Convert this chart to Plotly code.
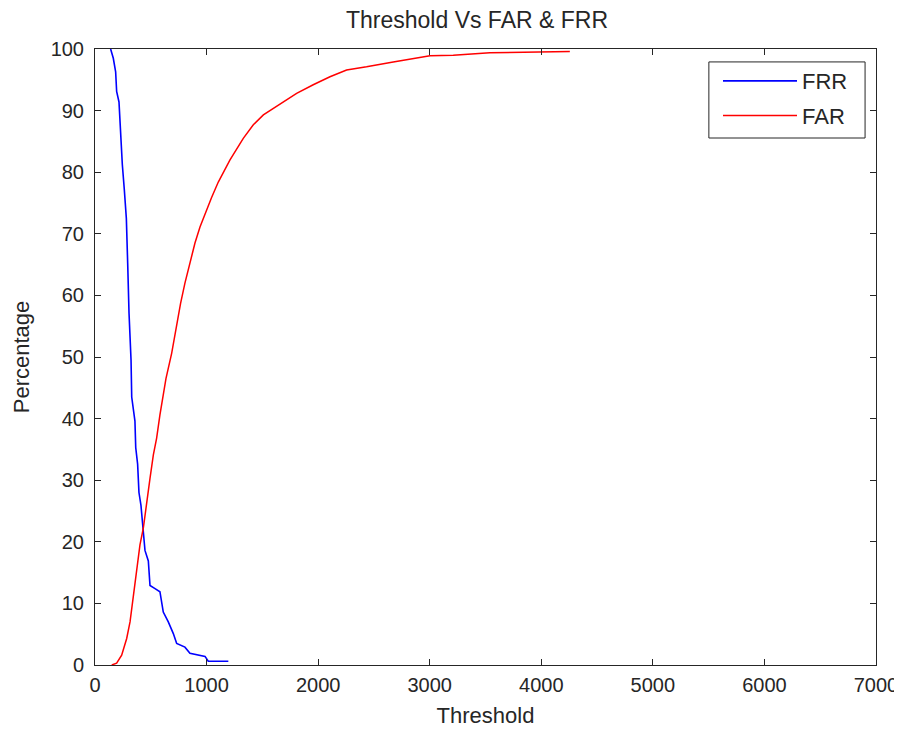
import plotly.graph_objects as go

frr_threshold = [140, 164, 185, 194, 215, 227, 245, 263, 281, 293, 305, 323, 329, 358, 365,
                 382, 394, 412, 433, 448, 478, 493, 538, 582, 612, 657, 702, 732, 806, 851,
                 986, 1015, 1195]
frr_values = [100, 98.5, 96.3, 93.1, 91.4, 86.6, 81.2, 77.1, 72.5, 65.2, 57.1, 49.5, 43.5, 39.6, 35.3,
              32.6, 28.0, 25.9, 21.1, 18.6, 16.9, 12.9, 12.4, 11.9, 8.6, 7.0, 5.1, 3.5, 2.9, 1.9,
              1.4, 0.6, 0.6]

far_threshold = [150, 194, 239, 284, 314, 343, 373, 403, 433, 463, 493, 523, 552, 582, 612,
                 636, 687, 726, 767, 806, 851, 896, 941, 986, 1045, 1105, 1165, 1210, 1329,
                 1419, 1509, 1628, 1807, 1956, 2106, 2255, 2434, 2673, 2852, 3002, 3211, 3539, 4256]
far_values = [0, 0.3, 1.6, 4.3, 7.0, 11.4, 15.7, 19.5, 22.2, 26.5, 30.3, 34.1, 36.8, 40.6, 43.8,
              46.5, 50.6, 54.9, 58.7, 62.0, 65.5, 68.5, 71.1, 73.3, 75.9, 78.4, 80.6, 82.0, 85.5,
              87.7, 89.3, 90.7, 92.8, 94.2, 95.5, 96.6, 97.1, 97.9, 98.5, 98.9, 99.0, 99.4, 99.6]

x_ticks = [0, 1000, 2000, 3000, 4000, 5000, 6000, 7000]
y_ticks = [0, 10, 20, 30, 40, 50, 60, 70, 80, 90, 100]

FONT = "Liberation Sans, Arial, sans-serif"
TICK_FS = 20
TEXT_FS = 22
COL = "#262626"

fig = go.Figure()
fig.add_trace(go.Scatter(x=frr_threshold, y=frr_values, mode="lines", name="FRR", legendgroup="frr",
                         line=dict(color="#0000ff", width=1.6)))
fig.add_trace(go.Scatter(x=far_threshold, y=far_values, mode="lines", name="FAR", legendgroup="far",
                         line=dict(color="#ff0000", width=1.5)))

axis_common = dict(showgrid=False, zeroline=False, showline=True, linecolor=COL,
                   linewidth=1, mirror="ticks", ticks="inside", ticklen=6,
                   tickcolor=COL, automargin=False,
                   tickfont=dict(family=FONT, size=TICK_FS, color=COL))

# legend frame (drawn as a box in paper coordinates)
fig.add_shape(type="rect", xref="paper", yref="paper", x0=0.786, x1=0.986, y0=0.8555, y1=0.979,
              line=dict(color=COL, width=1), fillcolor="white", layer="above")

fig.update_layout(
    width=894, height=722,
    margin=dict(l=87, r=26, t=41, b=65),
    paper_bgcolor="white", plot_bgcolor="white",
    title=dict(text="Threshold Vs FAR &amp; FRR", x=0.5246, xanchor="center", y=0.983, yanchor="middle",
               font=dict(family=FONT, size=23, color=COL)),
    xaxis=dict(range=[0, 7000], tickvals=x_ticks, ticklabelstandoff=2,
               title=dict(text="Threshold", standoff=12, font=dict(family=FONT, size=TEXT_FS, color=COL)),
               **axis_common),
    yaxis=dict(range=[0, 100], tickvals=y_ticks, ticklabelstandoff=6,
               title=dict(text="Percentage", standoff=14, font=dict(family=FONT, size=TEXT_FS, color=COL)),
               **axis_common),
    legend=dict(x=0.7977, y=0.982, xanchor="left", yanchor="top", bgcolor="rgba(0,0,0,0)",
                borderwidth=0, itemwidth=74, tracegroupgap=3,
                font=dict(family=FONT, size=TEXT_FS, color=COL)),
    showlegend=True,
)

fig.write_html("out.html")
